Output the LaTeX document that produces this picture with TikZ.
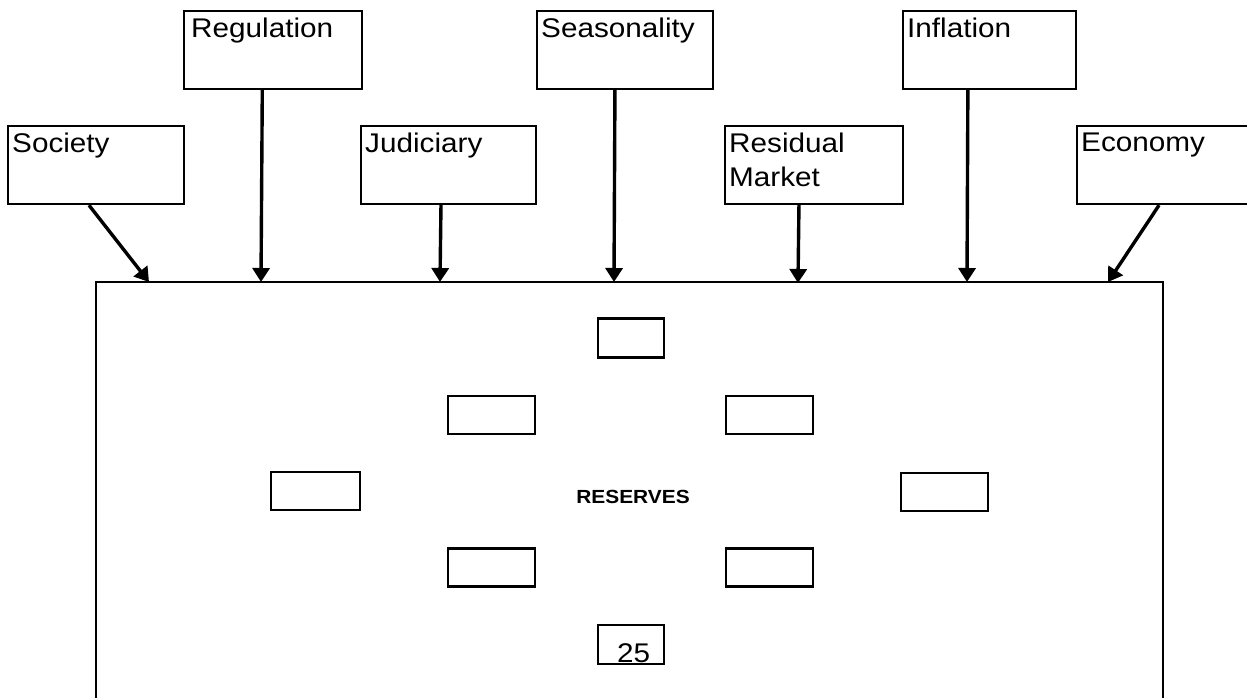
\documentclass[tikz,border=0pt]{standalone}
\usepackage{fontspec}
\setmainfont[FakeStretch=1.1]{Liberation Sans}
\usetikzlibrary{arrows.meta,calc}
\begin{document}
\begin{tikzpicture}[x=1pt,y=-1pt,
  factor/.style={draw,line width=2.2pt,rectangle,minimum width=176pt,minimum height=78pt,inner sep=0pt},
  ftext/.style={anchor=north west,inner sep=0pt,font=\fontsize{27}{34}\selectfont,align=left},
  slot/.style={draw,line width=2.2pt,rectangle,minimum width=87pt,minimum height=38pt,inner sep=0pt},
  cell/.style={draw,line width=2.2pt,rectangle,minimum width=66pt,minimum height=39pt,inner sep=0pt},
  push/.style={line width=3.4pt,-{Triangle[width=17pt,length=14pt]}}]
\useasboundingbox (0,0) rectangle (1247,698);
\clip (0,0) rectangle (1247,698);

% outer reserve frame, open at the bottom
\node[draw,line width=2.2pt,rectangle,minimum width=1067pt,minimum height=440pt,inner sep=0pt,anchor=north west] (frame) at (95,281) {};
\node[font=\bfseries\fontsize{19}{23}\selectfont] (reserves) at (633,497) {RESERVES};

% upper row of influences
\node[factor,minimum width=178pt,anchor=north west] (reg) at (183,10) {};
\node[factor,anchor=north west] (sea) at (536,10) {};
\node[factor,minimum width=173pt,anchor=north west] (inf) at (902,10) {};
% lower row of influences
\node[factor,anchor=north west] (soc) at (7,125) {};
\node[factor,minimum width=175pt,anchor=north west] (jud) at (360,125) {};
\node[factor,minimum width=178pt,anchor=north west] (res) at (724,125) {};
\node[factor,anchor=north west] (eco) at (1076,125) {};

\node[ftext] (regt) at ($(reg.north west)+(8,8)$) {Regulation};
\node[ftext] (seat) at ($(sea.north west)+(5,8)$) {Seasonality};
\node[ftext] (inft) at ($(inf.north west)+(5,8)$) {Inflation};
\node[ftext] (soct) at ($(soc.north west)+(5,8)$) {Society};
\node[ftext] (judt) at ($(jud.north west)+(5,8)$) {Judiciary};
\node[ftext] (rest) at ($(res.north west)+(5,8)$) {Residual\\Market};
\node[ftext] (ecot) at ($(eco.north west)+(5,8)$) {Economy};

% arrow heads meet the top of the frame here
\coordinate (tsoc) at (149,282);
\coordinate (treg) at (261,282);
\coordinate (tjud) at (440,282);
\coordinate (tsea) at (614,282);
\coordinate (tres) at (798,283);
\coordinate (tinf) at (967,282);
\coordinate (teco) at (1108,282);

\draw[push] ($(soc.south west)!0.46!(soc.south east)$) -- (tsoc);
\draw[push] ($(reg.south west)!0.44!(reg.south east)$) -- (treg);
\draw[push] ($(jud.south west)!0.457!(jud.south east)$) -- (tjud);
\draw[push] ($(sea.south west)!0.443!(sea.south east)$) -- (tsea);
\draw[push] ($(res.south west)!0.416!(res.south east)$) -- (tres);
\draw[push] ($(inf.south west)!0.376!(inf.south east)$) -- (tinf);
\draw[push] ($(eco.south west)!0.466!(eco.south east)$) -- (teco);

% inner boxes arranged around the centre
\node[cell] (c1) at (631,338) {};
\node[slot] (s1) at (491.5,415) {};
\node[slot] (s2) at (769.5,415) {};
\node[slot,minimum width=89pt] (s3) at (315.5,491) {};
\node[slot] (s4) at (944.5,492) {};
\node[slot] (s5) at (491.5,567.5) {};
\node[slot] (s6) at (769.5,567.5) {};
\node[cell] (c2) at (631,644.5) {};
\node[anchor=base west,inner sep=0pt,font=\fontsize{27}{30}\selectfont] (pg) at (617,662) {25};
\end{tikzpicture}
\end{document}
